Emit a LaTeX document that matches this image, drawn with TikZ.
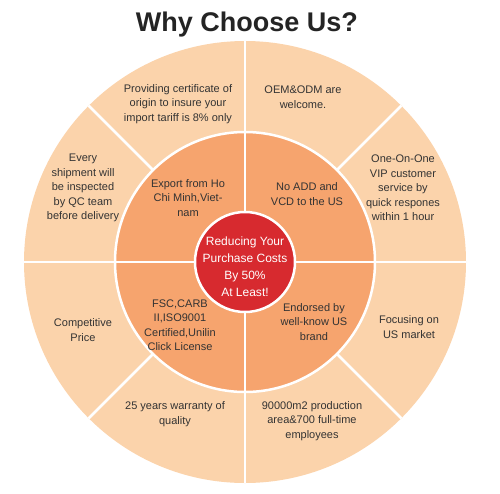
\documentclass[tikz,border=0pt]{standalone}
\usepackage{fontspec}
\setmainfont{Liberation Sans}
\definecolor{outerring}{HTML}{FBD3AB}
\definecolor{midring}{HTML}{F6A46E}
\definecolor{corered}{HTML}{D72A2F}
\definecolor{textgray}{HTML}{333333}
\begin{document}
\begin{tikzpicture}[x=1pt, y=1pt,
    ringtext/.style={align=center, text=textgray, inner sep=0pt, font=\fontsize{11}{14.5}\selectfont},
    coretext/.style={align=center, text=white, inner sep=0pt, font=\fontsize{12}{17}\selectfont},
    divider/.style={white, line width=2.5pt}]
    \useasboundingbox (-245,-231) rectangle (255,262);

    % Title
    \node[anchor=base, text=textgray!70!black, font=\fontsize{27}{30}\selectfont\bfseries] (title) at (2, 230) {Why Choose Us?};

    % Draw the rings
    \fill[outerring] (0,0) circle (221);
    \fill[midring] (0,0) circle (130);

    % White dividers
    \foreach \a in {0,45,...,315}
        \draw[divider] (\a:130) -- (\a:221);
    \foreach \a in {0,90,180,270}
        \draw[divider] (\a:50) -- (\a:130);
    \draw[divider] (0,0) circle (130);
    \draw[divider, fill=corered] (0,0) circle (50);

    % Labels in the outer ring
    \node[ringtext] (certificate) at (-67, 158) {Providing certificate of\\origin to insure your\\import tariff is 8\% only};
    \node[ringtext] (oem) at (58, 165) {OEM\&ODM are\\welcome.};
    \node[ringtext] (shipment) at (-162, 74) {Every\\shipment will\\be inspected\\by QC team\\before delivery};
    \node[ringtext] (vip) at (158, 74) {One-On-One\\VIP customer\\service by\\quick respones\\within 1 hour};
    \node[ringtext] (price) at (-162, -68) {Competitive\\Price};
    \node[ringtext] (market) at (164, -65) {Focusing on\\US market};
    \node[ringtext] (warranty) at (-70, -152) {25 years warranty of\\quality};
    \node[ringtext] (area) at (67, -159) {90000m2 production\\area\&700 full-time\\employees};

    % Labels in the middle ring
    \node[ringtext] (export) at (-57, 64) {Export from Ho\\Chi Minh,Viet-\\nam};
    \node[ringtext] (noadd) at (62, 68) {No ADD and\\VCD to the US};
    \node[ringtext] (fsc) at (-65, -63) {FSC,CARB\\II,ISO9001\\Certified,Unilin\\Click License};
    \node[ringtext] (endorsed) at (69, -60) {Endorsed by\\well-know US\\brand};

    % Centre
    \node[coretext] (core) at (0, -5) {Reducing Your\\Purchase Costs\\By 50\%\\At Least!};
\end{tikzpicture}
\end{document}
